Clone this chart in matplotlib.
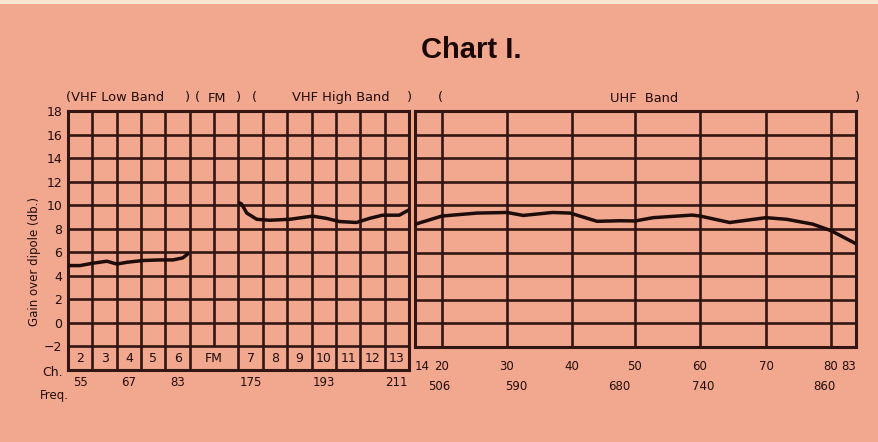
import numpy as np
import matplotlib
matplotlib.use("Agg")
import matplotlib.pyplot as plt
from matplotlib.transforms import blended_transform_factory
from matplotlib.patches import Rectangle

# ---------------- data ----------------
gain_ticks = [-2, 0, 2, 4, 6, 8, 10, 12, 14, 16, 18]

vhf_channels = ['2', '3', '4', '5', '6', 'FM', '7', '8', '9', '10', '11', '12', '13']
vhf_freq_labels = ['55', '67', '83', '175', '193', '211']
vhf_freq_channels = [2, 4, 6, 7, 10, 13]

uhf_channels = [14, 20, 30, 40, 50, 60, 70, 80, 83]
uhf_freq_labels = ['506', '590', '680', '740', '860']
uhf_freq_channels = [19.5, 31.5, 47.5, 60.5, 79.0]

# gain curves (x in fractional channel numbers, y in dB)
low_ch = [2.0, 2.49, 3.02, 3.6, 4.0, 4.42, 5.07, 5.77, 6.3, 6.71, 6.92]
low_gain = [4.87, 4.87, 5.07, 5.24, 5.0, 5.15, 5.3, 5.35, 5.35, 5.52, 5.86]

high_ch = [7.04, 7.13, 7.34, 7.75, 8.28, 9.1, 10.04, 10.61, 11.15, 11.84, 12.38, 12.91, 13.6, 14.0]
high_gain = [10.2, 10.1, 9.33, 8.8, 8.72, 8.8, 9.07, 8.88, 8.61, 8.53, 8.88, 9.15, 9.15, 9.6]

uhf_ch = [14, 20, 25.4, 30, 32.5, 37, 39.7, 44, 47.6, 50, 52.8, 58.8, 60, 64.5, 70, 73.2, 77.2, 80, 83]
uhf_gain = [8.4, 9.1, 9.35, 9.4, 9.15, 9.4, 9.35, 8.65, 8.7, 8.68, 8.96, 9.18, 9.1, 8.55, 8.96, 8.82, 8.41, 7.86, 6.75]

# ---------------- style ----------------
BG = '#F1A88F'
GRID = '#331612'
INK = '#220C09'
CURVE = '#1E0C0A'
W, H = 879, 442

plt.rcParams['font.family'] = ['DejaVu Sans']

fig = plt.figure(figsize=(W / 100, H / 100), dpi=100, facecolor=BG)


def px(x, y):
    return x / W, 1 - y / H


# light strip at very top (scan edge)
fig.patches.append(Rectangle((0, 1 - 4 / H), 1, 4 / H, transform=fig.transFigure,
                             facecolor='#F6E6D2', edgecolor='none', zorder=0))

# ---------------- left (VHF) panel ----------------
x0, x1, ytop, ybot = 68, 409, 111, 370
axL = fig.add_axes([x0 / W, 1 - ybot / H, (x1 - x0) / W, (ybot - ytop) / H])
axL.set_facecolor(BG)
axL.set_xlim(0, 14)
axL.set_ylim(-4, 18)


def vhf_col(ch):
    ch = np.asarray(ch, dtype=float)
    return np.where(ch < 7, ch - 2, ch)


lw_grid = 1.9
axL.hlines(gain_ticks[:-1], 0, 14, color=GRID, lw=lw_grid, zorder=1)
for c in range(1, 14):
    lo = -2 if c == 6 else -4
    axL.vlines(c, lo, 18, color=GRID, lw=lw_grid, zorder=1)
for s in axL.spines.values():
    s.set_color(GRID)
    s.set_linewidth(2.2)

axL.set_yticks(gain_ticks)
axL.set_yticklabels(['\u22122' if t < 0 else str(t) for t in gain_ticks],
                    fontsize=9, color=INK)
axL.tick_params(axis='y', length=0, pad=4)
axL.set_xticks([])

for lab in vhf_channels:
    if lab == 'FM':
        cx = 6.0
    else:
        n = int(lab)
        cx = (n - 2 if n <= 6 else n) + 0.5
    axL.text(cx, -3.0, lab, ha='center', va='center', fontsize=9, color=INK)

trL = blended_transform_factory(axL.transData, fig.transFigure)
for lab, ch in zip(vhf_freq_labels, vhf_freq_channels):
    cx = float(vhf_col(ch)) + 0.5
    axL.text(cx, 1 - 383 / H, lab, transform=trL, ha='center', va='center',
             fontsize=8.5, color=INK)

axL.plot(vhf_col(low_ch), low_gain, color=CURVE, lw=2.5,
         solid_joinstyle='round', solid_capstyle='round', zorder=3)
axL.plot(vhf_col(high_ch), high_gain, color=CURVE, lw=2.5,
         solid_joinstyle='round', solid_capstyle='round', zorder=3)

# ---------------- right (UHF) panel ----------------
u0, u1, ubot = 415, 856, 347
axR = fig.add_axes([u0 / W, 1 - ubot / H, (u1 - u0) / W, (ubot - ytop) / H])
axR.set_facecolor(BG)

uhf_grid_px = [0, 27, 92, 157, 220, 285, 351, 416, 441]


def fwd(x):
    return np.interp(x, uhf_channels, uhf_grid_px)


def inv(p):
    return np.interp(p, uhf_grid_px, uhf_channels)


axR.set_xscale('function', functions=(fwd, inv))
axR.set_xlim(14, 83)
axR.set_ylim(-2, 18)
axR.hlines(gain_ticks[1:-1], 14, 83, color=GRID, lw=lw_grid, zorder=1)
axR.vlines(uhf_channels[1:-1], -2, 18, color=GRID, lw=lw_grid, zorder=1)
for s in axR.spines.values():
    s.set_color(GRID)
    s.set_linewidth(2.2)
axR.set_yticks([])
axR.set_xticks(uhf_channels)
axR.set_xticklabels([str(c) for c in uhf_channels], fontsize=8.5, color=INK)
axR.tick_params(axis='x', length=0, pad=9)
axR.xaxis.set_minor_locator(matplotlib.ticker.NullLocator())
tls = axR.get_xticklabels()
tls[0].set_horizontalalignment('left')
tls[-1].set_horizontalalignment('right')

trR = blended_transform_factory(axR.transData, fig.transFigure)
for lab, ch in zip(uhf_freq_labels, uhf_freq_channels):
    axR.text(ch, 1 - 386 / H, lab, transform=trR, ha='center', va='center',
             fontsize=8.5, color=INK)

axR.plot(uhf_ch, uhf_gain, color=CURVE, lw=2.5,
         solid_joinstyle='round', solid_capstyle='round', zorder=3)

# ---------------- band labels ----------------
ty = 98
band_texts = [
    (66, '(VHF Low Band'), (185, ')'), (195, '('), (208, 'FM'), (236, ')'),
    (252, '('), (292, 'VHF High Band'), (407, ')'),
    (438, '('), (610, 'UHF  Band'), (855, ')'),
]
for x, t in band_texts:
    fig.text(*px(x, ty), t, ha='left', va='center', fontsize=9.4, color=INK)

# ---------------- title and axis captions ----------------
fig.text(*px(421, 50), 'Chart I.', ha='left', va='center', fontsize=21,
         fontweight='bold', color='#1A0806', family=['Liberation Sans', 'DejaVu Sans'])
fig.text(*px(35, 262), 'Gain over dipole (db.)', rotation=90, ha='center',
         va='center', fontsize=8.5, color=INK)
fig.text(*px(42, 373), 'Ch.', ha='left', va='center', fontsize=9, color=INK)
fig.text(*px(40, 396), 'Freq.', ha='left', va='center', fontsize=8.5, color=INK)

fig.savefig('out.png', dpi=100, facecolor=BG)
